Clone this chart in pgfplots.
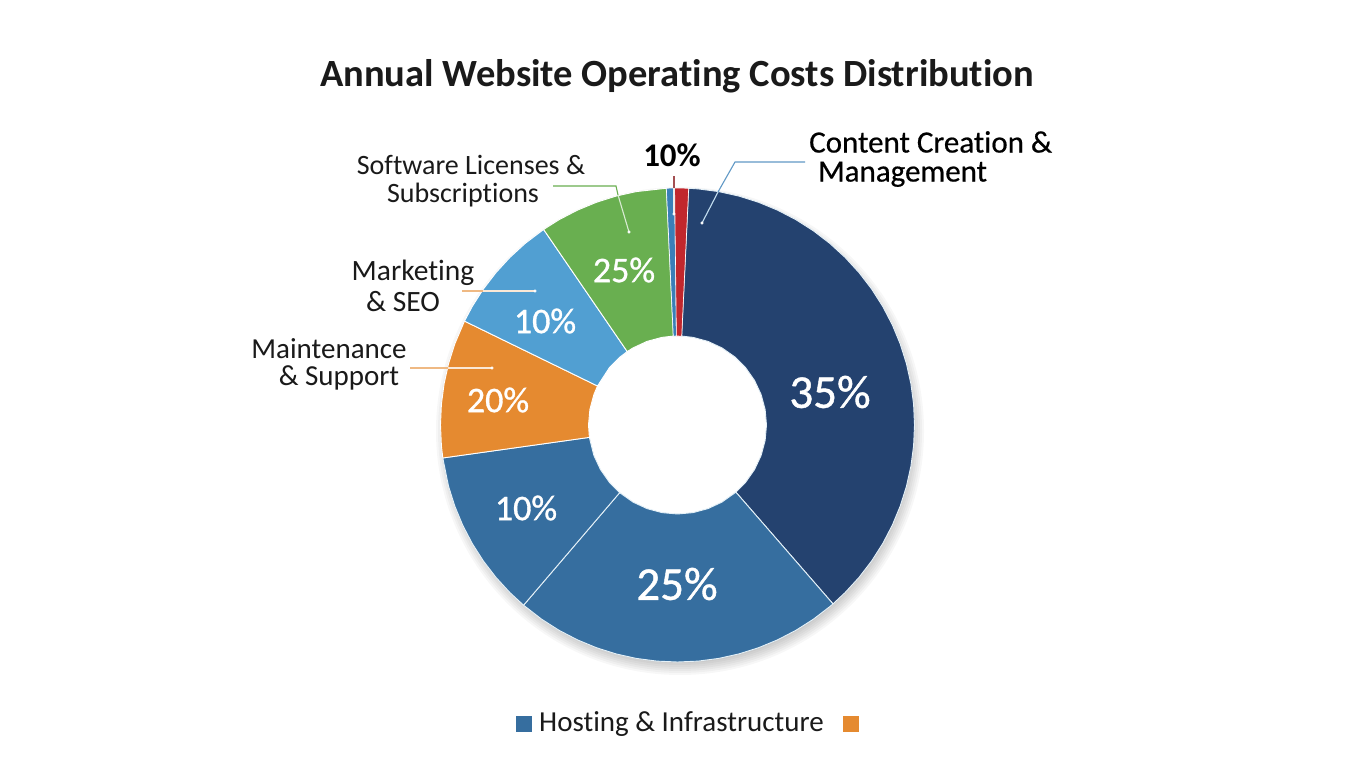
\documentclass[border=0pt]{standalone}
\usepackage{pgfplots}
\usepackage{fontspec}
\usepgfplotslibrary{polar}
\pgfplotsset{compat=1.18}
\setmainfont[Ligatures=NoCommon]{Carlito}
\newfontfamily\semib[FakeBold=0.9,Ligatures=NoCommon]{Carlito}
\newfontfamily\semic[FakeBold=0.5,Ligatures=NoCommon]{Carlito}
\definecolor{navy}{HTML}{24426F}
\definecolor{midblue}{HTML}{366E9F}
\definecolor{orng}{HTML}{E58A30}
\definecolor{ltblue}{HTML}{519FD2}
\definecolor{grn}{HTML}{69AF50}
\definecolor{smblue}{HTML}{3A7FB8}
\definecolor{rd}{HTML}{C1272D}
\definecolor{ink}{HTML}{1A1A1A}
\begin{document}
\begin{tikzpicture}
\path[use as bounding box,fill=white] (0,0) rectangle (1365pt,768pt);
\foreach \r in {232,234,236,238,240,242,244}{
  \fill[black,opacity=0.03] (680pt,337pt) circle (\r pt);
}
\fill[white] (677pt,343pt) circle (95pt);
\begin{polaraxis}[at={(677.5pt,343pt)},anchor=center,scale only axis,width=474pt,height=474pt,
  hide axis,clip=false,xmin=-270,xmax=90,ymin=0,ymax=237]
\addplot[fill=navy,draw=white!85!ltblue,line width=0.9pt] coordinates {(87.3,237)(85,237)(80,237)(75,237)(70,237)(65,237)(60,237)(55,237)(50,237)(45,237)(40,237)(35,237)(30,237)(25,237)(20,237)(15,237)(10,237)(5,237)(0,237)(-5,237)(-10,237)(-15,237)(-20,237)(-25,237)(-30,237)(-35,237)(-40,237)(-45,237)(-49,237)(-49,89)(-40,89)(-30,89)(-20,89)(-10,89)(0,89)(10,89)(20,89)(30,89)(40,89)(50,89)(60,89)(70,89)(80,89)(87.3,89)} -- cycle;
\addplot[fill=midblue,draw=white!85!ltblue,line width=0.9pt] coordinates {(-49,237)(-50,237)(-55,237)(-60,237)(-65,237)(-70,237)(-75,237)(-80,237)(-85,237)(-90,237)(-95,237)(-100,237)(-105,237)(-110,237)(-115,237)(-120,237)(-125,237)(-130.5,237)(-130.5,89)(-120,89)(-110,89)(-100,89)(-90,89)(-80,89)(-70,89)(-60,89)(-49,89)} -- cycle;
\addplot[fill=midblue,draw=white!85!ltblue,line width=0.9pt] coordinates {(-130.5,237)(-135,237)(-140,237)(-145,237)(-150,237)(-155,237)(-160,237)(-165,237)(-172,237)(-172,89)(-160,89)(-150,89)(-140,89)(-130.5,89)} -- cycle;
\addplot[fill=orng,draw=white,line width=0.9pt] coordinates {(-172,237)(-175,237)(-180,237)(-185,237)(-190,237)(-195,237)(-200,237)(-206,237)(-206,89)(-200,89)(-190,89)(-180,89)(-172,89)} -- cycle;
\addplot[fill=ltblue,draw=white,line width=0.9pt] coordinates {(-206,237)(-210,237)(-215,237)(-220,237)(-225,237)(-230,237)(-235.6,237)(-235.6,89)(-230,89)(-220,89)(-206,89)} -- cycle;
\addplot[fill=grn,draw=white,line width=0.9pt] coordinates {(-235.6,237)(-240,237)(-245,237)(-250,237)(-255,237)(-260,237)(-267.3,237)(-267.3,89)(-260,89)(-250,89)(-240,89)(-235.6,89)} -- cycle;
\addplot[fill=smblue,draw=white,line width=0.6pt] coordinates {(-267.3,237)(-269.3,237)(-269.3,89)(-267.3,89)} -- cycle;
\addplot[fill=rd,draw=white,line width=0.6pt] coordinates {(-269.3,237)(-272.7,237)(-272.7,89)(-269.3,89)} -- cycle;
\end{polaraxis}
\begin{axis}[at={(0pt,0pt)},anchor=south west,scale only axis,width=1365pt,height=768pt,
  hide axis,clip=false,xmin=0,xmax=1365,ymin=0,ymax=768,y dir=reverse]
% leader lines
\addplot[color=grn,line width=1.1pt] coordinates {(553,186)(616,186)(618,195)};
\addplot[color=grn!25!white,line width=1.1pt] coordinates {(618,195)(629,232)};
\addplot[color=rd!55!gray,line width=1.1pt] coordinates {(674,176)(674,188)};
\addplot[color=white!85!gray,line width=1.1pt] coordinates {(674,188)(674,214)};
\addplot[color=smblue!80!white,line width=1.1pt] coordinates {(805,162)(735,162)(718,192)};
\addplot[color=ltblue!35!white,line width=1.1pt] coordinates {(718,192)(702,223)};
\addplot[color=orng!60!white,line width=1.1pt] coordinates {(462,291)(483,291)};
\addplot[color=orng!20!white,line width=1.1pt] coordinates {(483,291)(535,291)};
\addplot[color=orng!60!white,line width=1.1pt] coordinates {(410,368)(448,368)};
\addplot[color=orng!20!white,line width=1.1pt] coordinates {(448,368)(492,368)};
\addplot[only marks,mark=*,mark size=1.3pt,color=white] coordinates {(629,232)(674,214)(702,223)(535,291)(492,368)};
% legend squares
\addplot[only marks,mark=square*,mark size=7.5pt,color=midblue] coordinates {(523.5,724)};
\addplot[only marks,mark=square*,mark size=7.5pt,color=orng] coordinates {(850.5,724)};
% text
\node[text=ink,font=\fontsize{38.5}{38.5}\selectfont\bfseries] at (axis cs:677,76) {Annual Website Operating Costs Distribution};
\node[text=ink,font=\fontsize{28}{28}\selectfont] at (axis cs:471,165) {Software Licenses \&};
\node[text=ink,font=\fontsize{28}{28}\selectfont] at (axis cs:463,195) {Subscriptions};
\node[text=black,font=\fontsize{33}{33}\selectfont\bfseries] at (axis cs:672,155) {10\%};
\node[text=black,anchor=north west,inner sep=0pt,align=left,font=\fontsize{31}{29}\selectfont\semic] at (axis cs:809,131) {Content Creation \&\\[0pt]\hspace*{9pt}Management};
\node[text=ink,font=\fontsize{29.5}{29.5}\selectfont] at (axis cs:413,273) {Marketing};
\node[text=ink,font=\fontsize{29.5}{29.5}\selectfont] at (axis cs:403,302) {\& SEO};
\node[text=ink,font=\fontsize{29}{29}\selectfont] at (axis cs:329,349) {Maintenance};
\node[text=ink,font=\fontsize{29}{29}\selectfont] at (axis cs:339,378) {\& Support};
\node[text=white,font=\fontsize{47}{47}\selectfont\semib] at (axis cs:830,392) {35\%};
\node[text=white,font=\fontsize{47}{47}\selectfont\semib] at (axis cs:677,584) {25\%};
\node[text=white,font=\fontsize{36}{36}\selectfont\semib] at (axis cs:526,508) {10\%};
\node[text=white,font=\fontsize{36}{36}\selectfont\semib] at (axis cs:498,400) {20\%};
\node[text=white,font=\fontsize{36}{36}\selectfont\semib] at (axis cs:545,321) {10\%};
\node[text=white,font=\fontsize{36}{36}\selectfont\semib] at (axis cs:624,270) {25\%};
\node[text=ink,anchor=west,inner sep=0pt,font=\fontsize{29}{29}\selectfont] at (axis cs:539,724) {Hosting \& Infrastructure};
\end{axis}
\end{tikzpicture}
\end{document}
